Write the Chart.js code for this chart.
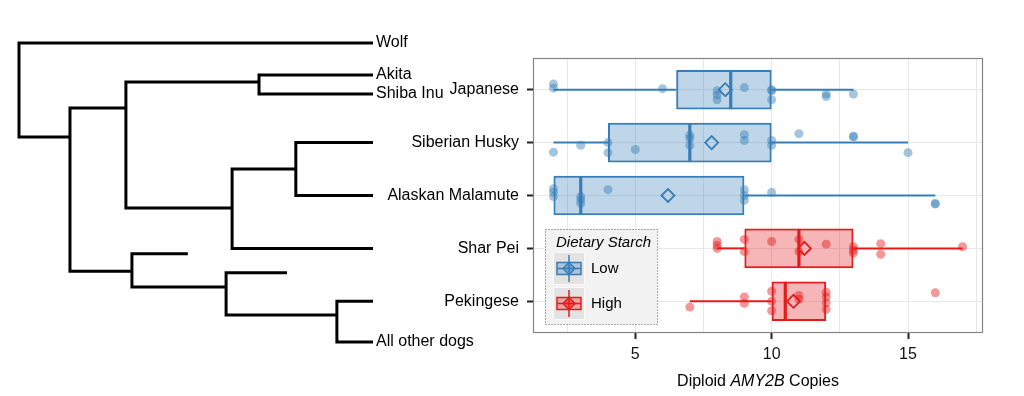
<!DOCTYPE html>
<html>
<head>
<meta charset="utf-8">
<script src="https://cdn.jsdelivr.net/npm/chart.js@4"></script>
<style>
  html, body { margin: 0; padding: 0; background: #fff; }
  #wrap { position: relative; width: 1024px; height: 396px; }
  #wrap canvas { position: absolute; top: 0; left: 0; }
</style>
</head>
<body>
<div id="wrap">
  <canvas id="tree" width="500" height="396"></canvas>
  <canvas id="box" width="1024" height="396"></canvas>
</div>
<script>
// box plot rows (top to bottom)
const breeds = ['Japanese', 'Siberian Husky', 'Alaskan Malamute', 'Shar Pei', 'Pekingese'];
const starch = ['Low', 'Low', 'Low', 'High', 'High'];
const whiskLo = [2, 2, 2, 8, 7];
const q1 = [6.5, 4, 2, 9, 10];
const medians = [8.5, 7, 3, 11, 10.5];
const q3 = [10, 10, 9, 13, 12];
const whiskHi = [13, 15, 16, 17, 12];
const means = [8.3, 7.8, 6.2, 11.2, 10.8];

// individual dogs: copies and vertical jitter (in row units)
const japCopies = [2, 2, 6, 8, 8, 8, 9, 10, 10, 10, 12, 12, 13];
const japJitter = [-0.11, -0.03, -0.02, 0.02, 0.1, 0.19, -0.04, 0, 0.02, 0.19, 0.08, 0.13, 0.08];
const sibCopies = [2, 3, 4, 4, 5, 7, 7, 7, 9, 9, 10, 10, 11, 13, 13, 15];
const sibJitter = [0.18, 0.05, 0, 0.19, 0.13, -0.14, -0.08, 0.05, -0.15, -0.04, -0.04, 0.05, -0.17, -0.12, -0.11, 0.19];
const alaCopies = [2, 2, 2, 3, 3, 3, 4, 9, 9, 9, 10, 16, 16];
const alaJitter = [-0.13, -0.06, 0.02, 0.02, 0.08, 0.15, -0.11, -0.11, 0, 0.09, -0.06, 0.16, 0.15];
const sharCopies = [8, 8, 8, 9, 9, 10, 11, 11, 12, 13, 13, 13, 14, 14, 17];
const sharJitter = [-0.13, -0.06, 0, -0.17, 0.06, -0.13, -0.17, 0.06, -0.08, -0.03, 0.03, 0.09, -0.09, 0.11, -0.03];
const pekCopies = [7, 9, 9, 10, 10, 10, 11, 11, 12, 12, 12, 12, 16];
const pekJitter = [0.11, -0.08, 0.04, -0.19, 0, 0.18, -0.11, -0.04, -0.17, -0.08, 0.03, 0.15, -0.16];

const xTicks = [2.5, 5, 7.5, 10, 12.5, 15, 17.5];
const legendKeys = ['Low', 'High'];

// dendrogram: tips (depth 1 = tip line), internal nodes
const tipLabels = ['Wolf', 'Akita', 'Shiba Inu', '', '', '', '', '', '', 'All other dogs'];
const tipDepth = [1, 1, 1, 1, 1, 1, 0.477, 0.757, 1, 1];
const tipY = [-0.883, -0.278, 0.081, 1, 2, 3, 3.1, 3.46, 4, 4.77];
const nodeDepth = [0, 0.144, 0.302, 0.678, 0.602, 0.782, 0.319, 0.585, 0.898];
const nodeY = [null, 0.894, 0.346, -0.146, 2.236, 1.5, 3.43, 3.73, 4.26];
const nodeKids = [['t0', 'n1'], ['n2', 'n6'], ['n3', 'n4'], ['t1', 't2'], ['n5', 't5'],
                  ['t3', 't4'], ['t6', 'n7'], ['t7', 'n8'], ['t8', 't9']];

const palette = { Low: '#377EB8', High: '#E41A1C' };
const FONT = '"Liberation Sans", Arial, Helvetica, sans-serif';
Chart.defaults.font.family = FONT;

function tint(hex, a) {
  if (!hex) return 'rgba(0,0,0,0)';
  const n = parseInt(hex.slice(1), 16);
  return `rgba(${n >> 16},${(n >> 8) & 255},${n & 255},${a})`;
}
const rowColour = (row, a) => tint(palette[starch[row]], a);

// ---------- tree ----------
function endpoint(key) {
  const i = +key.slice(1);
  return key[0] === 't' ? { x: tipDepth[i], y: tipY[i] } : { x: nodeDepth[i], y: nodeY[i] };
}
const brackets = nodeKids.map(([a, b], n) => {
  const A = endpoint(a), B = endpoint(b), d = nodeDepth[n];
  return [A, { x: d, y: A.y }, { x: d, y: B.y }, B];
});

const tipNames = {
  id: 'tipNames',
  afterDatasetsDraw(chart) {
    const { ctx, scales } = chart;
    ctx.save();
    ctx.font = '16px ' + FONT;
    ctx.fillStyle = '#000';
    ctx.textBaseline = 'middle';
    tipLabels.forEach((t, i) => {
      if (!t) return;
      ctx.fillText(t, scales.x.getPixelForValue(tipDepth[i]) + 3, scales.y.getPixelForValue(tipY[i]));
    });
    ctx.restore();
  }
};

new Chart(document.getElementById('tree'), {
  type: 'scatter',
  data: {
    datasets: brackets.map(pts => ({
      data: pts, showLine: true, borderColor: '#000', borderWidth: 3,
      pointRadius: 0, borderJoinStyle: 'miter', borderCapStyle: 'butt', clip: false
    }))
  },
  options: {
    responsive: false, animation: false, events: [],
    layout: { padding: { left: 19, right: 127, top: 58, bottom: 63 } },
    plugins: { legend: { display: false }, tooltip: { enabled: false } },
    scales: {
      x: { type: 'linear', min: 0, max: 1, display: false },
      y: { type: 'linear', min: -0.6, max: 4.6, reverse: true, display: false }
    }
  },
  plugins: [tipNames]
});

// ---------- box plot ----------
const copiesByBreed = [japCopies, sibCopies, alaCopies, sharCopies, pekCopies];
const jitterByBreed = [japJitter, sibJitter, alaJitter, sharJitter, pekJitter];
const dots = [];
copiesByBreed.forEach((vals, row) =>
  vals.forEach((v, k) => dots.push({ x: v, y: row + jitterByBreed[row][k], row })));

const panelFrame = {
  id: 'panelFrame',
  afterDatasetsDraw(chart) {
    const { ctx, chartArea: a, scales } = chart;
    ctx.save();
    ctx.strokeStyle = '#858585';
    ctx.lineWidth = 1.2;
    ctx.strokeRect(a.left + 0.5, a.top + 0.5, a.right - a.left - 1, a.bottom - a.top - 1);

    // x title with italic gene name
    const parts = [['Diploid ', ''], ['AMY2B', 'italic '], [' Copies', '']];
    let total = 0;
    parts.forEach(p => { ctx.font = p[1] + '16px ' + FONT; total += ctx.measureText(p[0]).width; });
    let x = (a.left + a.right) / 2 - total / 2;
    const y = scales.x.bottom - 14;
    ctx.fillStyle = '#000';
    ctx.textBaseline = 'middle';
    parts.forEach(p => {
      ctx.font = p[1] + '16px ' + FONT;
      ctx.fillText(p[0], x, y);
      x += ctx.measureText(p[0]).width;
    });

    // legend
    const lx = a.left + 12, ly = a.bottom - 104, lw = 112, lh = 95;
    ctx.fillStyle = '#f2f2f2';
    ctx.fillRect(lx, ly, lw, lh);
    ctx.setLineDash([1, 2]);
    ctx.strokeStyle = '#555';
    ctx.lineWidth = 1;
    ctx.strokeRect(lx + 0.5, ly + 0.5, lw, lh);
    ctx.setLineDash([]);
    ctx.fillStyle = '#000';
    ctx.font = 'italic 15px ' + FONT;
    ctx.fillText('Dietary Starch', lx + 11, ly + 14);
    legendKeys.forEach((name, i) => {
      const kx = lx + 8, ky = ly + 23 + i * 35;
      const col = palette[name], cx = kx + 16, cy = ky + 16.5;
      ctx.fillStyle = '#e3e3e3';
      ctx.fillRect(kx, ky, 32, 33);
      ctx.strokeStyle = '#fafafa';
      ctx.lineWidth = 1;
      ctx.strokeRect(kx + 0.5, ky + 0.5, 31, 32);
      ctx.strokeStyle = col;
      ctx.lineWidth = 1.5;
      ctx.beginPath(); ctx.moveTo(cx, ky + 3); ctx.lineTo(cx, ky + 30); ctx.stroke();
      ctx.fillStyle = tint(col, 0.3);
      ctx.fillRect(cx - 12, cy - 6, 24, 12);
      ctx.strokeRect(cx - 12, cy - 6, 24, 12);
      ctx.beginPath(); ctx.moveTo(cx - 12, cy); ctx.lineTo(cx + 12, cy); ctx.stroke();
      ctx.fillStyle = tint(col, 0.5);
      ctx.beginPath(); ctx.arc(cx, cy, 4, 0, Math.PI * 2); ctx.fill();
      ctx.beginPath();
      ctx.moveTo(cx, cy - 6); ctx.lineTo(cx + 6, cy); ctx.lineTo(cx, cy + 6); ctx.lineTo(cx - 6, cy);
      ctx.closePath(); ctx.stroke();
      ctx.fillStyle = '#000';
      ctx.font = '15px ' + FONT;
      ctx.fillText(name, kx + 38, cy);
    });
    ctx.restore();
  }
};

new Chart(document.getElementById('box'), {
  type: 'scatter',
  data: {
    datasets: [
      {
        type: 'scatter',
        data: means.map((m, i) => ({ x: m, y: i, row: i })),
        pointStyle: 'rectRot', pointRadius: 6.5, pointBorderWidth: 1.8,
        pointBackgroundColor: 'rgba(0,0,0,0)',
        pointBorderColor: c => rowColour(c.raw && c.raw.row, 1)
      },
      {
        type: 'scatter',
        data: dots,
        pointRadius: 4.5, pointBorderWidth: 0,
        pointBackgroundColor: c => rowColour(c.raw && c.raw.row, 0.45)
      },
      {
        type: 'scatter',
        data: medians.map((m, i) => ({ x: m, y: i, row: i })),
        pointStyle: 'line', pointRotation: 90, pointRadius: 19.5, pointBorderWidth: 3.2,
        pointBorderColor: c => rowColour(c.raw && c.raw.row, 1)
      },
      {
        type: 'bar', indexAxis: 'y', grouped: false,
        data: q1.map((v, i) => ({ x: [v, q3[i]], y: i })),
        barPercentage: 0.75, categoryPercentage: 1,
        borderWidth: 2, borderSkipped: false,
        backgroundColor: c => rowColour(c.dataIndex, 0.32),
        borderColor: c => rowColour(c.dataIndex, 1)
      },
      {
        type: 'bar', indexAxis: 'y', grouped: false,
        data: whiskLo.map((v, i) => ({ x: [v, q1[i]], y: i })),
        maxBarThickness: 2, borderWidth: 0,
        backgroundColor: c => rowColour(c.dataIndex, 1)
      },
      {
        type: 'bar', indexAxis: 'y', grouped: false,
        data: whiskHi.map((v, i) => ({ x: [q3[i], v], y: i })),
        maxBarThickness: 2, borderWidth: 0,
        backgroundColor: c => rowColour(c.dataIndex, 1)
      }
    ]
  },
  options: {
    responsive: false, animation: false, events: [],
    layout: { padding: { left: 0, right: 41, top: 58, bottom: 0 } },
    plugins: { legend: { display: false }, tooltip: { enabled: false } },
    scales: {
      x: {
        type: 'linear', min: 1.25, max: 17.75, beginAtZero: false, offset: false,
        afterBuildTicks: s => { s.ticks = xTicks.map(v => ({ value: v })); },
        afterFit: s => { s.height = 63; },
        border: { display: false },
        grid: {
          offset: false, color: '#e8e8e8', lineWidth: 1,
          tickLength: 6, tickWidth: 2,
          tickColor: c => (c.tick && c.tick.value % 5 === 0 ? '#222' : 'rgba(0,0,0,0)')
        },
        ticks: {
          autoSkip: false, maxRotation: 0, padding: 6, color: '#111',
          font: { size: 16 },
          callback: v => (v % 5 === 0 ? String(v) : '')
        }
      },
      y: {
        type: 'linear', min: -0.6, max: 4.6, reverse: true, offset: false,
        afterBuildTicks: s => { s.ticks = breeds.map((b, i) => ({ value: i })); },
        afterFit: s => { s.width = 533; },
        border: { display: false },
        grid: { offset: false, color: '#e8e8e8', lineWidth: 1, tickLength: 6, tickWidth: 2, tickColor: '#222' },
        ticks: {
          autoSkip: false, padding: 8, color: '#000',
          font: { size: 16 },
          callback: v => breeds[v] || ''
        }
      }
    }
  },
  plugins: [panelFrame]
});
</script>
</body>
</html>
